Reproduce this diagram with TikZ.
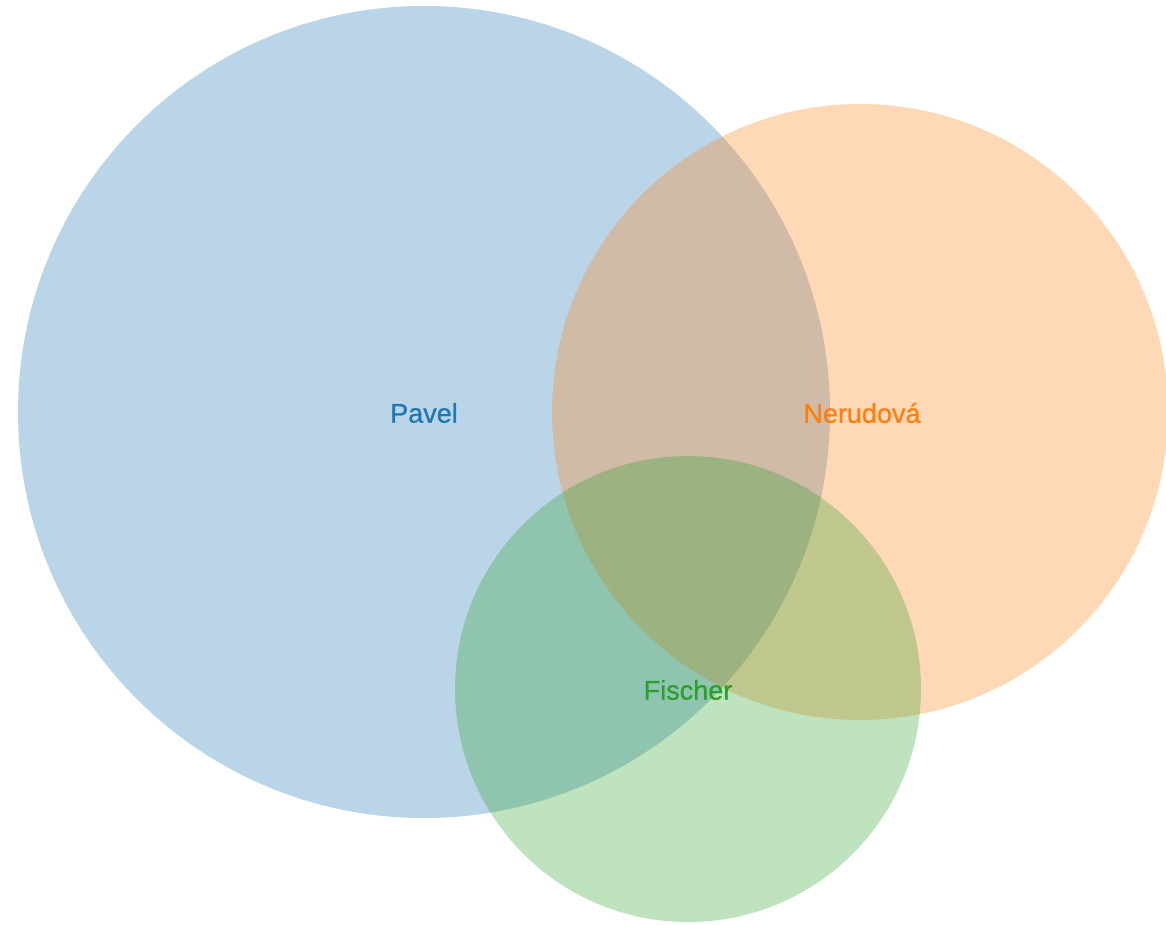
\documentclass[tikz,border=0pt]{standalone}
\usepackage{fontspec}
\setmainfont{Liberation Sans}
\newfontfamily\labelfont[FakeBold=0.8]{Liberation Sans}
\definecolor{cblue}{HTML}{1F77B4}
\definecolor{corange}{HTML}{FF7F0E}
\definecolor{cgreen}{HTML}{2CA02C}
\tikzset{
  setcircle/.style={fill opacity=0.3, draw=none},
  setlabel/.style={font=\labelfont\fontsize{27}{30}\selectfont, inner sep=0pt}
}
\begin{document}
\begin{tikzpicture}[x=1pt,y=-1pt]
\useasboundingbox (0,0) rectangle (1166,925);
\fill[white] (0,0) rectangle (1166,925);
\fill[setcircle, cblue] (424,412) circle (406);
\fill[setcircle, corange] (860,412) circle (308);
\fill[setcircle, cgreen] (688,689) circle (233);
\node[setlabel, text=cblue] (pavel) at (424,413) {Pavel};
\node[setlabel, text=corange] (nerudova) at (862,413) {Nerudová};
\node[setlabel, text=cgreen] (fischer) at (688,690) {Fischer};
\end{tikzpicture}
\end{document}
